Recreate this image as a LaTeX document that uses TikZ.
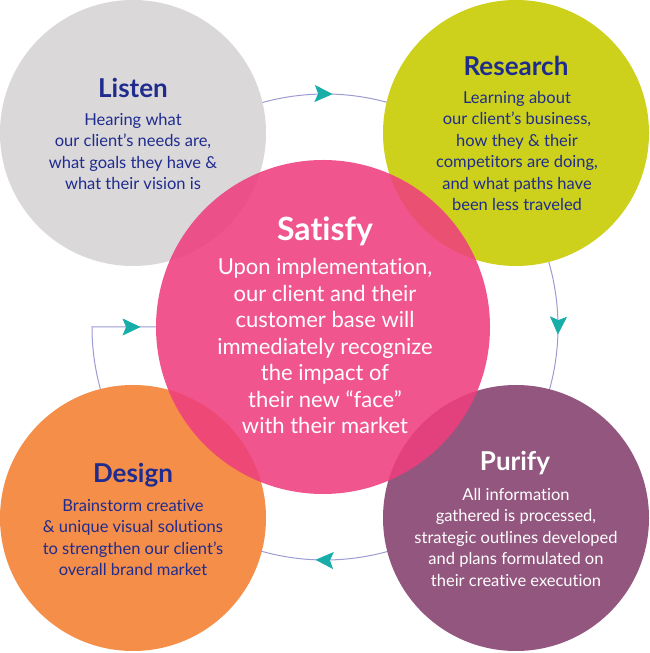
\documentclass[tikz,border=0pt]{standalone}
\usepackage{fontspec}
\setmainfont{Lato}[Ligatures={NoCommon,NoRequired}]
\usetikzlibrary{arrows.meta,decorations.markings,calc}
\definecolor{listengray}{HTML}{DAD8D9}
\definecolor{researchlime}{HTML}{CDD11B}
\definecolor{satisfypink}{HTML}{EE3F7D}
\definecolor{designorange}{HTML}{F58E48}
\definecolor{purifyplum}{HTML}{93567E}
\definecolor{navytext}{HTML}{1F2C8E}
\definecolor{ringline}{HTML}{9D9BD3}
\definecolor{arrowteal}{HTML}{17ADA9}
\pgfdeclarelayer{bg}
\pgfsetlayers{bg,main}
\begin{document}
\begin{tikzpicture}[x=1pt,y=1pt,
  stage/.style={circle,inner sep=0pt,minimum size=266pt},
  title/.style={anchor=base,font=\fontsize{26}{30}\bfseries\selectfont},
  body/.style={align=center,inner sep=0pt,font=\fontsize{16.5}{21.5}\selectfont},
  bigtitle/.style={anchor=base,font=\fontsize{32}{36}\bfseries\selectfont},
  bigbody/.style={align=center,inner sep=0pt,font=\fontsize{22}{26.5}\selectfont},
  ringtip/.style={arrowteal},
  ring/.style={draw=ringline,line width=1pt,
    decoration={markings,
      mark=at position 211pt with {\arrow[ringtip]{Stealth[length=18pt,width=17pt,inset=3.5pt]}},
      mark=at position 577pt with {\arrow[ringtip]{Stealth[length=18pt,width=17pt,inset=3.5pt]}},
      mark=at position 945pt with {\arrow[ringtip]{Stealth[length=18pt,width=17pt,inset=3.5pt]}},
      mark=at position 1350pt with {\arrow[ringtip]{Stealth[length=18pt,width=17pt,inset=3.5pt]}}},
    postaction={decorate}}
]
\useasboundingbox (0,0) rectangle (650,653);

% stage circles
\node[stage,fill=listengray]   (listen)   at (133,520) {};
\node[stage,fill=researchlime] (research) at (516,520) {};
\node[stage,fill=designorange] (design)   at (133,135) {};
\node[stage,fill=purifyplum]   (purify)   at (516,135) {};
\node[stage,minimum size=334pt,fill=satisfypink,fill opacity=0.88] (satisfy) at (323,326) {};

% ring connector
\coordinate (ringc) at (325,326);
\coordinate (ringstart) at ($(ringc)+(140:233)$);
\begin{pgfonlayer}{bg}
\draw[ring] (ringstart) arc[start angle=140,end angle=-180,radius=233] -- (satisfy.west);
\end{pgfonlayer}

% texts
\node[title,text=navytext] (listenT) at (133,555) {Listen};
\node[body,text=navytext] (listenB) at (133,501.5) {Hearing what\\our client’s needs are,\\what goals they have \&\\what their vision is};

\node[title,text=navytext] (researchT) at (516,577) {Research};
\node[body,text=navytext] (researchB) at (517,502) {Learning about\\our client’s business,\\how they \& their\\competitors are doing,\\and what paths have\\been less traveled};

\node[bigtitle,text=white] (satisfyT) at (325,412) {Satisfy};
\node[bigbody,text=white] (satisfyB) at (325,307) {Upon implementation,\\our client and their\\customer base will\\immediately recognize\\the impact of\\their new “face”\\with their market};

\node[title,text=navytext] (designT) at (133,170) {Design};
\node[body,text=navytext] (designB) at (133,115.5) {Brainstorm creative\\\& unique visual solutions\\to strengthen our client’s\\overall brand market};

\node[title,text=white] (purifyT) at (515,182) {Purify};
\node[body,text=white] (purifyB) at (516,116) {All information\\gathered is processed,\\strategic outlines developed\\and plans formulated on\\their creative execution};
\end{tikzpicture}
\end{document}
